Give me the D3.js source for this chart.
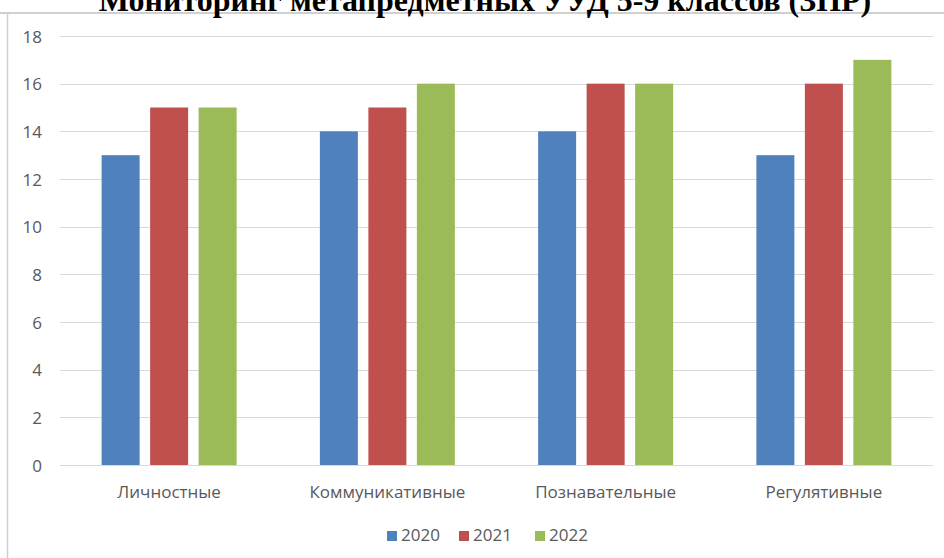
<!DOCTYPE html>
<html><head><meta charset="utf-8">
<script src="https://cdn.jsdelivr.net/npm/d3@7"></script>
<style>body{margin:0;background:#fff;overflow:hidden}</style>
</head><body>
<svg id="c" width="944" height="558"></svg>
<script>
const titleText = "Мониторинг метапредметных УУД 5-9 классов (ЗПР)";
const categories = ["Личностные", "Коммуникативные", "Познавательные", "Регулятивные"];
const seriesNames = ["2020", "2021", "2022"];
const values2020 = [13, 14, 14, 13];
const values2021 = [15, 15, 16, 16];
const values2022 = [15, 16, 16, 17];
const yTicks = [0, 2, 4, 6, 8, 10, 12, 14, 16, 18];
const colors = ["#4f81bd", "#c0504d", "#9bbb59"];

const series = [values2020, values2021, values2022];
const svg = d3.select("#c");
const font = "'Open Sans', sans-serif";

// frame
svg.append("line").attr("x1", 0).attr("x2", 944).attr("y1", 13).attr("y2", 13)
  .attr("stroke", "#d0d0d0").attr("stroke-width", 2);
svg.append("line").attr("x1", 7.5).attr("x2", 7.5).attr("y1", 13).attr("y2", 558)
  .attr("stroke", "#d0d0d0").attr("stroke-width", 1.5);

// title
svg.append("text").attr("x", 485).attr("y", 11).attr("text-anchor", "middle")
  .attr("font-family", "'Liberation Serif', 'Times New Roman', serif")
  .attr("font-weight", "bold").attr("font-size", 32).text(titleText);

const x0 = d3.scaleBand().domain(categories).range([60, 933]).paddingInner(0).paddingOuter(0);
const y = d3.scaleLinear().domain([0, 18]).range([465, 36]);

// grid
svg.append("g").selectAll("line").data(yTicks).join("line")
  .attr("x1", 60).attr("x2", 933)
  .attr("y1", d => Math.round(y(d)) + 0.5).attr("y2", d => Math.round(y(d)) + 0.5)
  .attr("stroke", "#d9d9d9").attr("stroke-width", 1);

// y axis labels
const yAxis = d3.axisLeft(y).tickValues(yTicks).tickSize(0).tickPadding(0);
const gy = svg.append("g").attr("transform", "translate(42,0)").call(yAxis);
gy.select(".domain").remove();
gy.selectAll("text").attr("font-family", font).attr("font-size", 17).attr("fill", "#595959")
  .attr("dy", "0.36em");

// bars
const barW = 38, step = 48.5;
const g = svg.append("g");
categories.forEach((c, ci) => {
  const cx = x0(c) + x0.bandwidth() / 2;
  series.forEach((vals, si) => {
    g.append("rect")
      .attr("x", cx + (si - 1) * step - barW / 2)
      .attr("y", y(vals[ci]))
      .attr("width", barW)
      .attr("height", y(0) - y(vals[ci]))
      .attr("fill", colors[si]);
  });
});

// x axis labels
const xAxis = d3.axisBottom(x0).tickSize(0).tickPadding(0);
const gx = svg.append("g").attr("transform", "translate(0,498)").call(xAxis);
gx.select(".domain").remove();
gx.selectAll("text").attr("font-family", font).attr("font-size", 17).attr("fill", "#595959")
  .attr("dy", "0").attr("y", 0);

// legend
const legend = svg.append("g");
const legX = [387, 459, 535];
seriesNames.forEach((n, i) => {
  legend.append("rect").attr("x", legX[i]).attr("y", 531).attr("width", 10).attr("height", 10).attr("fill", colors[i]);
  legend.append("text").attr("x", legX[i] + 14).attr("y", 541).attr("font-family", font)
    .attr("font-size", 17).attr("fill", "#595959").text(n);
});
</script>
</body></html>
